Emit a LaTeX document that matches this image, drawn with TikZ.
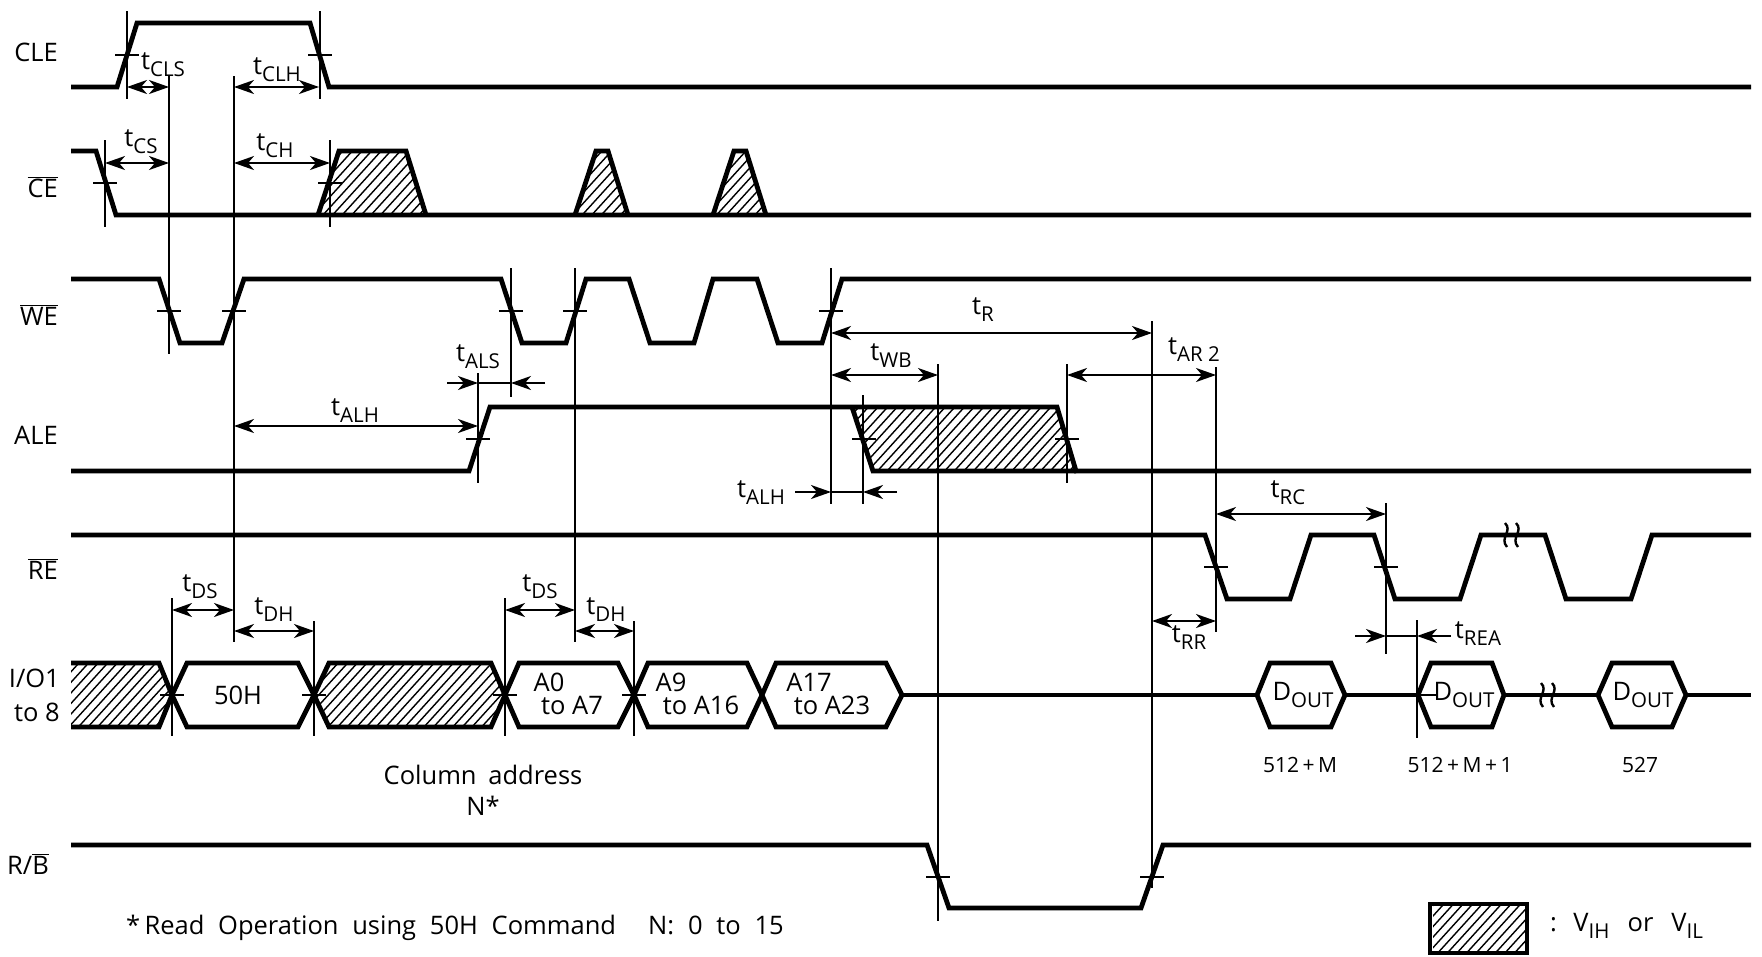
\documentclass[tikz,border=0pt]{standalone}
\usepackage{fontspec}
\setmainfont{Open Sans}
\usetikzlibrary{arrows.meta}
\newcommand\lblfont{\fontsize{25.5}{30}\selectfont}
\newcommand\subfont{\fontsize{20.5}{24}\selectfont}
\newcommand\smlfont{\fontsize{21}{26}\selectfont}
\newcommand\tsb[2]{#1\raisebox{-0.28em}{\subfont #2}}
\newcommand\ovl[1]{$\overline{\mbox{#1}}$}
\tikzset{
  x=1pt,y=-1pt,
  wave/.style={line width=4.8pt,line join=miter,line cap=butt,black},
  guide/.style={line width=2pt,black},
  tickm/.style={line width=2pt,black},
  dim/.style={line width=2pt,black,{Stealth[length=20pt,width=14pt,inset=6pt]}-{Stealth[length=20pt,width=14pt,inset=6pt]}},
  dimr/.style={line width=2pt,black,-{Stealth[length=20pt,width=14pt,inset=6pt]}},
  hatchline/.style={line width=1.4pt,black},
  lbl/.style={inner sep=0pt,font=\lblfont,text=black},
  sml/.style={inner sep=0pt,font=\smlfont,text=black},
  squig/.style={line width=2.4pt,black}
}
% hatching: parallel lines clipped to the given closed path
\newcommand\hatchpoly[1]{%
  \begin{scope}
    \clip #1;
    \foreach \k in {0,9.6,...,2640}
      \draw[hatchline] (\k,0)--(\k-869,956);
  \end{scope}}
\newcommand\squiggle[2]{%
  \draw[squig] (#1+0,#2-12) .. controls (#1+8,#2-4) and (#1-6,#2+3) .. (#1+2,#2+12);
  \draw[squig] (#1+11,#2-12) .. controls (#1+19,#2-4) and (#1+5,#2+3) .. (#1+13,#2+12);}
\begin{document}
\begin{tikzpicture}
\useasboundingbox (0,0) rectangle (1762,956);
\fill[white] (0,0) rectangle (1762,956);
% ---- hatch fills
\hatchpoly{(318,215)--(339,151)--(406,151)--(426,215)--cycle}
\hatchpoly{(575,215)--(596,151)--(608,151)--(628,215)--cycle}
\hatchpoly{(713,215)--(734,151)--(746,151)--(766,215)--cycle}
\hatchpoly{(852,407)--(1057,407)--(1076,471)--(873,471)--cycle}
\hatchpoly{(71,663)--(159,663)--(172,695)--(159,727)--(71,727)--cycle}
\hatchpoly{(314,695)--(329,663)--(491,663)--(505,695)--(491,727)--(329,727)--cycle}
\hatchpoly{(1433,904)--(1525,904)--(1525,953)--(1433,953)--cycle}
% ---- waveforms
\draw[wave] (71,87)--(117,87)--(137,23)--(310,23)--(329,87)--(1751,87);
\draw[wave] (71,151)--(96,151)--(116,215)--(1751,215);
\draw[wave] (318,215)--(339,151)--(406,151)--(426,215);
\draw[wave] (575,215)--(596,151)--(608,151)--(628,215);
\draw[wave] (713,215)--(734,151)--(746,151)--(766,215);
\draw[wave] (71,279)--(159,279)--(180,343)--(222,343)--(244,279)--(501,279)--(522,343)--(566,343)--(586,279)--(629,279)--(650,343)--(694,343)--(713,279)--(757,279)--(778,343)--(822,343)--(842,279)--(1751,279);
\draw[wave] (71,471)--(469,471)--(490,407)--(1057,407)--(1076,471)--(1751,471);
\draw[wave] (852,407)--(873,471)--(1076,471);
\draw[wave] (71,535)--(1205,535)--(1227,599)--(1290,599)--(1311,535)--(1374,535)--(1395,599)--(1460,599)--(1481,535)--(1545,535)--(1566,599)--(1631,599)--(1652,535)--(1751,535);
% I/O
\draw[wave] (71,663)--(159,663)--(172,695)--(159,727)--(71,727);
\draw[wave] (172,695)--(187,663)--(298,663)--(314,695)--(298,727)--(187,727)--cycle;
\draw[wave] (314,695)--(329,663)--(491,663)--(505,695)--(491,727)--(329,727)--cycle;
\draw[wave] (505,695)--(519,663)--(618,663)--(634,695)--(618,727)--(519,727)--cycle;
\draw[wave] (634,695)--(648,663)--(747,663)--(762,695)--(747,727)--(648,727)--cycle;
\draw[wave] (762,695)--(776,663)--(886,663)--(902,695)--(886,727)--(776,727)--cycle;
\draw[wave] (902,695)--(1257,695);
\draw[wave] (1257,695)--(1270,663)--(1331,663)--(1345,695)--(1331,727)--(1270,727)--cycle;
\draw[wave] (1345,695)--(1418,695);
\draw[wave] (1418,695)--(1431,663)--(1492,663)--(1504,695)--(1492,727)--(1431,727)--cycle;
\draw[wave] (1504,695)--(1598,695);
\draw[wave] (1598,695)--(1612,663)--(1672,663)--(1686,695)--(1672,727)--(1612,727)--cycle;
\draw[wave] (1686,695)--(1751,695);
% R/B
\draw[wave] (71,845)--(927,845)--(949,908)--(1141,908)--(1163,845)--(1751,845);
% legend
\draw[line width=4.6pt,black] (1430,904) rectangle (1527,953);
% ---- guide lines
\draw[guide] (127,11)--(127,99);
\draw[guide] (320,11)--(320,99);
\draw[guide] (169,76)--(169,354);
\draw[guide] (234,76)--(234,642);
\draw[guide] (105,140)--(105,227);
\draw[guide] (330,140)--(330,227);
\draw[guide] (511,268)--(511,397);
\draw[guide] (575,268)--(575,642);
\draw[guide] (831,268)--(831,504);
\draw[guide] (478,373)--(478,483);
\draw[guide] (863,395)--(863,504);
\draw[guide] (938,364)--(938,921);
\draw[guide] (1152,321)--(1152,888);
\draw[guide] (1067,364)--(1067,483);
\draw[guide] (1216,367)--(1216,632);
\draw[guide] (1386,503)--(1386,654);
\draw[guide] (1417,620)--(1417,738);
\draw[guide] (172,598)--(172,736);
\draw[guide] (314,621)--(314,736);
\draw[guide] (505,598)--(505,736);
\draw[guide] (634,621)--(634,736);
% ---- ticks
\foreach \x/\y in {127/55,320/55,105/183,330/183,169/311,234/311,511/311,575/311,831/311,478/439,864/439,1067/439,1216/567,1386/567,172/695,314/695,505/695,634/695,1426/695,938/877,1152/877}
  \draw[tickm] (\x-12,\y)--(\x+12,\y);
% ---- dimension arrows
\draw[dim] (127,87)--(169,87);
\draw[dim] (234,87)--(319,87);
\draw[dim] (105,163)--(169,163);
\draw[dim] (234,163)--(330,163);
\draw[dim] (234,426)--(478,426);
\draw[dim] (831,333)--(1152,333);
\draw[dim] (831,375)--(938,375);
\draw[dim] (1067,375)--(1216,375);
\draw[dim] (1216,514)--(1386,514);
\draw[dim] (1152,621)--(1216,621);
\draw[dim] (172,610)--(234,610);
\draw[dim] (234,631)--(314,631);
\draw[dim] (505,610)--(575,610);
\draw[dim] (575,631)--(634,631);
\draw[dimr] (447,383)--(478,383);
\draw[dimr] (545,383)--(511,383);
\draw[guide] (478,383)--(511,383);
\draw[dimr] (795,492)--(831,492);
\draw[dimr] (897,492)--(863,492);
\draw[guide] (831,492)--(863,492);
\draw[dimr] (1355,636)--(1386,636);
\draw[dimr] (1451,636)--(1417,636);
\draw[guide] (1386,636)--(1417,636);
% squiggles
\squiggle{1505}{535}
\squiggle{1541}{695}
% ---- signal labels
\node[lbl,anchor=east] (cle) at (58,52) {CLE};
\node[lbl,anchor=east] (ce) at (58,187) {\ovl{CE}};
\node[lbl,anchor=east] (we) at (58,315) {\ovl{WE}};
\node[lbl,anchor=east] (ale) at (58,435) {ALE};
\node[lbl,anchor=east] (re) at (58,569) {\ovl{RE}};
\node[lbl,anchor=east] (io1) at (60,678) {I/O1};
\node[lbl,anchor=east] (io2) at (60,712) {to 8};
\node[lbl,anchor=east] (rb) at (49,864) {R/\ovl{B}};
% ---- timing labels
\node[lbl] (tcls) at (163,65) {\tsb{t}{CLS}};
\node[lbl] (tclh) at (277,70) {\tsb{t}{CLH}};
\node[lbl] (tcs) at (141,142) {\tsb{t}{CS}};
\node[lbl] (tch) at (275,146) {\tsb{t}{CH}};
\node[lbl] (tals) at (478,357) {\tsb{t}{ALS}};
\node[lbl] (talh) at (355,411) {\tsb{t}{ALH}};
\node[lbl] (talhb) at (761,493) {\tsb{t}{ALH}};
\node[lbl] (tr) at (983,310) {\tsb{t}{R}};
\node[lbl] (twb) at (891,356) {\tsb{t}{WB}};
\node[lbl] (tar) at (1194,350) {\tsb{t}{AR 2}};
\node[lbl] (trc) at (1288,493) {\tsb{t}{RC}};
\node[lbl] (trr) at (1189,638) {\tsb{t}{RR}};
\node[lbl] (trea) at (1478,634) {\tsb{t}{REA}};
\node[lbl] (tds) at (200,587) {\tsb{t}{DS}};
\node[lbl] (tdh) at (274,610) {\tsb{t}{DH}};
\node[lbl] (tdsb) at (540,587) {\tsb{t}{DS}};
\node[lbl] (tdhb) at (606,610) {\tsb{t}{DH}};
% ---- data labels
\node[lbl] (h50) at (238,695) {50H};
\node[lbl] (a0) at (549,682) {A0};
\node[lbl] (a7) at (572,705) {to A7};
\node[lbl] (a9) at (671,682) {A9};
\node[lbl] (a16) at (701,705) {to A16};
\node[lbl] (a17) at (809,682) {A17};
\node[lbl] (a23) at (832,705) {to A23};
\node[lbl] (d1) at (1303,695) {\tsb{D}{OUT}};
\node[lbl] (d2) at (1464,695) {\tsb{D}{OUT}};
\node[lbl] (d3) at (1643,695) {\tsb{D}{OUT}};
\node[sml] (n1) at (1300,765) {512\,+\,M};
\node[sml] (n2) at (1460,765) {512\,+\,M\,+\,1};
\node[sml] (n3) at (1640,765) {527};
\node[lbl] (col) at (483,775) {Column\hspace{0.2em} address};
\node[lbl] (nstar) at (483,806) {N*};
\node[lbl,anchor=west] (note) at (126,928) {*\,Read\hspace{0.28em} Operation\hspace{0.28em} using\hspace{0.28em} 50H\hspace{0.28em} Command\hspace{1em} N:\hspace{0.28em} 0\hspace{0.28em} to\hspace{0.28em} 15};
\node[lbl,anchor=west] (leg) at (1550,926) {:\hspace{0.3em} \tsb{V}{IH}\hspace{0.45em} or\hspace{0.45em} \tsb{V}{IL}};
\end{tikzpicture}
\end{document}
